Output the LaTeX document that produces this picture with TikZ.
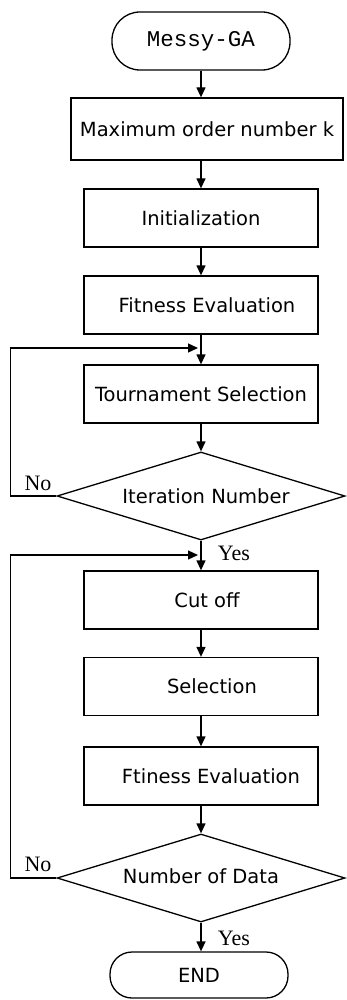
\documentclass[tikz,border=0pt]{standalone}
\usepackage{fontspec}
\setmainfont{DejaVu Sans}
\newfontfamily\monof{Liberation Mono}
\newfontfamily\serf{Liberation Serif}
\usetikzlibrary{shapes.geometric,arrows.meta}
\begin{document}
\begin{tikzpicture}[x=1pt,y=-1pt,
  line width=1.3pt,
  every node/.style={inner sep=0pt, font=\fontsize{19.5}{23}\selectfont},
  procbox/.style={draw, rectangle, minimum width=234pt, minimum height=58pt},
  termbox/.style={draw, rectangle, minimum width=178pt, rounded corners=28pt},
  decbox/.style={draw, diamond, aspect=3.27, minimum width=288pt, minimum height=88pt},
  lbl/.style={font=\serf\fontsize{22}{24}\selectfont},
  arr/.style={-{Triangle[length=10pt,width=9pt]}}]
\useasboundingbox (0,0) rectangle (346,1000);
\node[termbox, minimum height=58pt, font=\monof\fontsize{22.5}{24}\selectfont] (start) at (201,41) {Messy-GA};
\node[procbox, minimum width=272pt, minimum height=62pt] (maxk) at (207,129) {Maximum order number k};
\node[procbox] (init) at (201,218) {Initialization};
\node[procbox] (fit1) at (201,305) {\hspace*{12pt}Fitness Evaluation};
\node[procbox] (tour) at (201,394) {Tournament Selection};
\node[decbox] (iter) at (201,496) {\hspace*{10pt}Iteration Number};
\node[procbox] (cut) at (201,600) {\hspace*{12pt}Cut off};
\node[procbox] (sel) at (201,686.5) {\hspace*{22pt}Selection};
\node[procbox] (fit2) at (201,776) {\hspace*{20pt}Ftiness Evaluation};
\node[decbox] (numd) at (201,878) {\raisebox{3pt}{Number of Data}};
\node[termbox, minimum height=46pt, rounded corners=22pt] (fin) at (199,975) {END};
\coordinate (j1) at (201,348);
\coordinate (j2) at (201,555);
\node[lbl] (no1) at (38,483) {No};
\node[lbl] (yes1) at (234,553) {Yes};
\node[lbl] (no2) at (38,864) {No};
\node[lbl] (yes2) at (234,938) {Yes};
\draw[arr] (start) -- (start|-maxk.north);
\draw[arr] (start|-maxk.south) -- (init);
\draw[arr] (init) -- (fit1);
\draw[arr] (fit1) -- (tour);
\draw[arr] (tour) -- (iter);
\draw[arr] (iter) -- (cut);
\draw[arr] (cut) -- (sel);
\draw[arr] (sel) -- (fit2);
\draw[arr] (fit2) -- (numd);
\draw[arr] (numd.south) -- (numd.south|-fin.north);
\draw[arr] (iter.west) -- ++(-46,0) |- ([xshift=-3pt]j1);
\draw[arr] (numd.west) -- ++(-46,0) |- ([xshift=-3pt]j2);
\end{tikzpicture}
\end{document}
